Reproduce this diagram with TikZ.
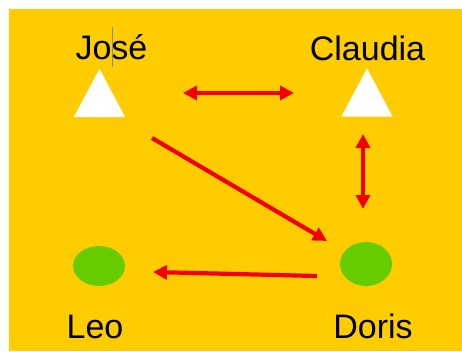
\documentclass[tikz,border=0pt]{standalone}
\usepackage{fontspec}
\setmainfont{Liberation Sans}
\usetikzlibrary{arrows.meta,shapes.geometric}
\definecolor{bgyellow}{HTML}{FFCC00}
\definecolor{leafgreen}{HTML}{66CC00}
\definecolor{arrowred}{HTML}{F20000}
\definecolor{caretgray}{HTML}{7F8CA0}
\begin{document}
\begin{tikzpicture}[x=1pt,y=-1pt,
  personname/.style={font=\fontsize{34}{40}\selectfont, text=black, inner sep=0pt, anchor=base},
  tri/.style={minimum width=51pt, minimum height=48pt, inner sep=0pt,
    append after command={\pgfextra{\fill[white] (\tikzlastnode.south west) -- (\tikzlastnode.south east) -- (\tikzlastnode.north) -- cycle;}}},
  blob/.style={ellipse, fill=leafgreen, inner sep=0pt},
  link/.style={arrowred, line width=4.2pt, -{Triangle[length=14pt,width=14pt]}},
  twoway/.style={link, {Triangle[length=14pt,width=14pt]}-{Triangle[length=14pt,width=14pt]}}]
  % canvas
  \useasboundingbox (0,0) rectangle (462,351);
  \fill[white] (0,0) rectangle (462,351);
  \fill[bgyellow] (9,9) rectangle (462,351);

  % people
  \node[tri] (josetri) at (99.5,93) {};
  \node[tri] (claudiatri) at (367,92.5) {};
  \node[blob, minimum width=52pt, minimum height=40pt] (leo) at (99,266) {};
  \node[blob, minimum width=52pt, minimum height=44pt] (doris) at (366,264) {};

  % names
  \node[personname] (jose) at (111.5,59) {José};
  \node[personname] (claudia) at (367.5,60) {Claudia};
  \node[personname] (leoname) at (95,338) {Leo};
  \node[personname] (dorisname) at (373,338) {Doris};

  % text caret in the first name
  \draw[caretgray, line width=1pt] ([xshift=0.5pt,yshift=32pt]jose.base) -- ([xshift=0.5pt,yshift=-8pt]jose.base);

  % arrow ends
  \coordinate (h1) at (183,93);
  \coordinate (h2) at (294,93);
  \coordinate (v1) at (363,134);
  \coordinate (v2) at (363,209);
  \coordinate (d1) at (152,138);
  \coordinate (d2) at (327,241);
  \coordinate (b1) at (317,276);
  \coordinate (b2) at (153,272);

  % relations
  \draw[twoway] (h1) -- (h2);
  \draw[twoway] (v1) -- (v2);
  \draw[link] (d1) -- (d2);
  \draw[link] (b1) -- (b2);
\end{tikzpicture}
\end{document}
